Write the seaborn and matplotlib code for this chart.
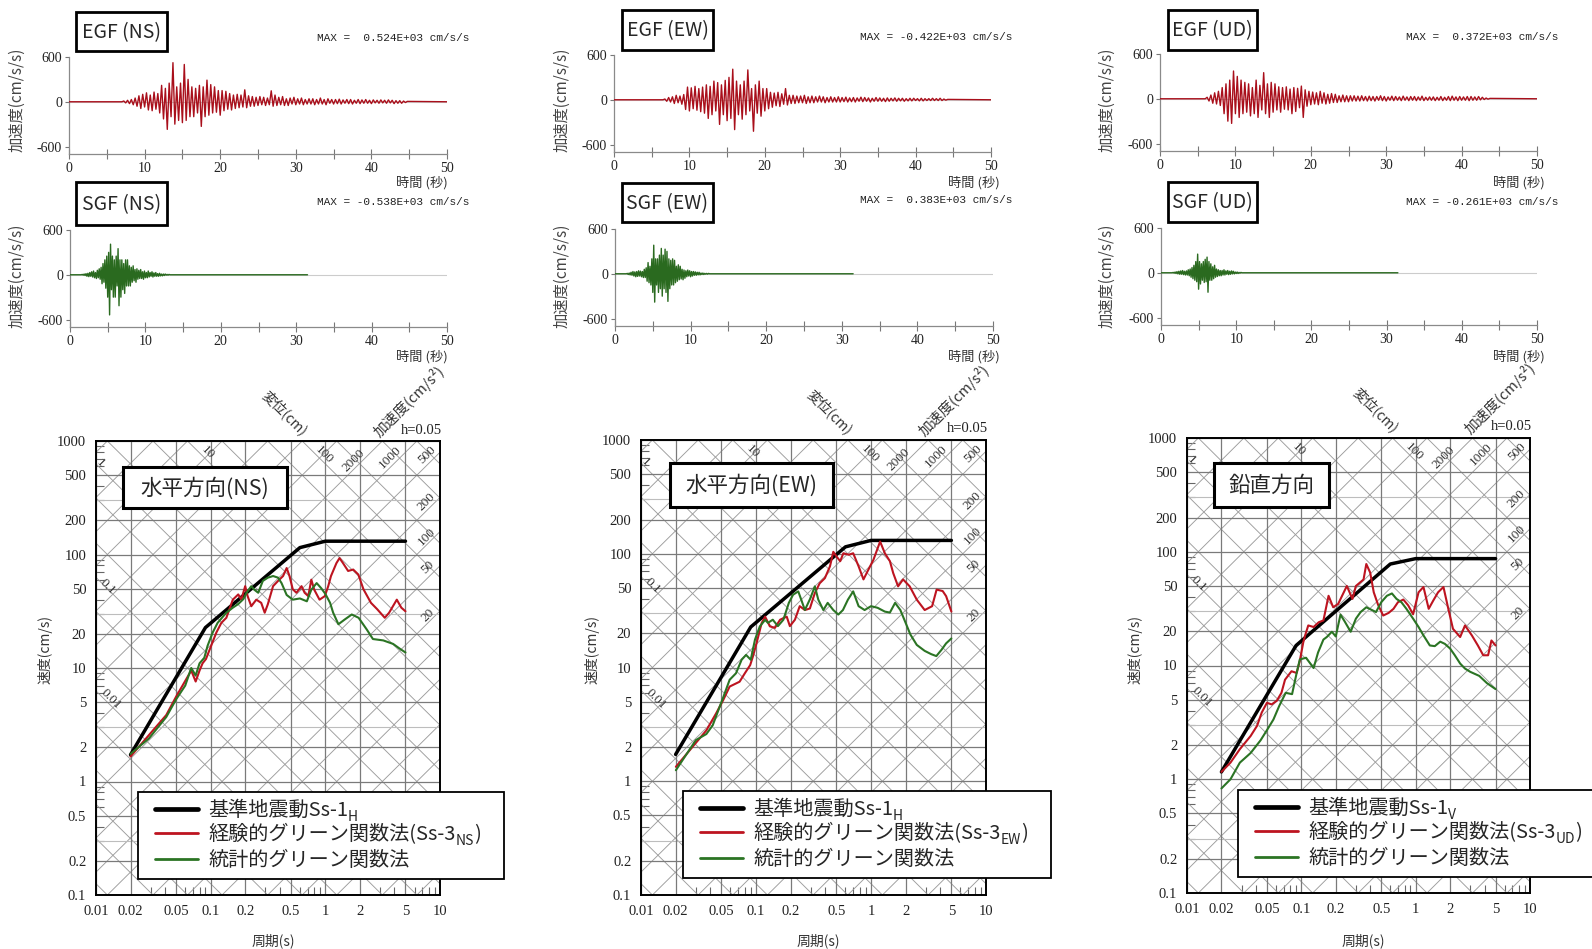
import numpy as np
import matplotlib
matplotlib.use("Agg")
import matplotlib.pyplot as plt
import seaborn as sns
from matplotlib.patches import Rectangle
from matplotlib.lines import Line2D
from matplotlib.ticker import NullFormatter

W, H = 1592, 949

# ---- acceleration time histories (cm/s/s) ----
egf_dt = 0.25
egf_ns_t0 = 7.0
egf_ns = [0, 10, -15, 20, -25, 30, -40, 50, -60, 80, -90, 100, -70, 120, -110, 90, -120, 130, -100, 110,
          -150, 220, -230, 180, -370, 250, -200, 524, -300, 200, -250, 250, -280, 500, -250, 300, -200, 200, -200, 180,
          -150, 220, -330, 200, -200, 290, -180, 230, -150, 200, -140, 150, -180, 150, -120, 140, -100, 110, -110, 90,
          -90, 100, -80, 90, -70, 160, -80, 80, -60, 70, -60, 60, -50, 70, -40, 60, -50, 50, -40, 147,
          -60, 90, -50, 60, -40, 70, -50, 40, -50, 50, -30, 60, -40, 40, -30, 50, -40, 30, -30, 40,
          -30, 40, -40, 30, -30, 50, -30, 30, -40, 40, -20, 30, -30, 30, -25, 35, -30, 25, -20, 30,
          -25, 30, -30, 20, -20, 30, -25, 25, -20, 30, -20, 20, -25, 25, -15, 20, -20, 25, -15, 20,
          -20, 25, -15, 20, -25, 15, -20, 15, -20, 10, -10, 5]
egf_ew_t0 = 6.5
egf_ew = [0, 10, -20, 30, -30, 40, -50, 60, -40, 50, -60, 70, -130, 170, -150, 160, -120, 180, -140, 150,
          -160, 170, -180, 200, -250, 180, -200, 250, -150, 230, -330, 200, -200, 260, -280, 300, -250, 410, -400, 250,
          -200, 200, -260, 250, -200, 400, -150, 150, -422, 200, -180, 250, -220, 150, -150, 150, -120, 100, -100, 90,
          -80, 100, -90, 80, -60, 150, -70, 60, -50, 60, -50, 50, -40, 50, -40, 60, -50, 40, -40, 50,
          -40, 40, -30, 50, -30, 40, -40, 30, -30, 40, -30, 30, -30, 40, -30, 30, -25, 35, -30, 25,
          -25, 30, -30, 25, -20, 35, -25, 30, -20, 25, -30, 20, -20, 30, -20, 25, -20, 20, -25, 25,
          -20, 20, -15, 25, -20, 20, -15, 20, -20, 15, -15, 20, -15, 20, -10, 15, -15, 20, -15, 15,
          -10, 15, -10, 20, -10, 15, -10, 20, -10, 10, -5, 5]
egf_ud_t0 = 6.0
egf_ud = [0, 20, -30, 50, -60, 80, -70, 100, -90, 150, -200, 200, -300, 250, -330, 372, -200, 300, -250, 250,
          -200, 220, -180, 200, -230, 150, -200, 250, -250, 180, -150, 350, -200, 200, -250, 220, -180, 200, -150, 160,
          -180, 150, -140, 160, -150, 130, -200, 150, -170, 140, -120, 170, -250, 120, -100, 100, -80, 90, -70, 80,
          -80, 100, -60, 80, -70, 60, -60, 70, -50, 60, -50, 40, -40, 50, -40, 40, -40, 40, -30, 40,
          -30, 35, -30, 40, -25, 30, -30, 35, -25, 30, -30, 30, -20, 40, -25, 30, -30, 25, -20, 35,
          -25, 30, -20, 25, -25, 35, -20, 25, -25, 30, -20, 30, -25, 25, -20, 35, -25, 20, -20, 25,
          -20, 25, -25, 20, -20, 30, -25, 20, -20, 30, -25, 35, -20, 25, -25, 30, -20, 25, -20, 30,
          -25, 30, -20, 25, -20, 30, -15, 20, -10, 10, -5, 5]

sgf_dt = 0.125
sgf_t0 = 1.5
sgf_end = 31.5
sgf_ns = [0, 5, -5, 10, -10, 15, -20, 20, -25, 30, -20, 40, -30, 50, -40, 30,
          -50, 60, -40, 80, -60, 100, -120, 150, -100, 200, -180, 250, -300, 300, -538, 410,
          -200, 250, -300, 200, -300, 250, -150, 350, -415, 200, -300, 200, -200, 150, -250, 200,
          -150, 200, -150, 120, -150, 100, -100, 120, -80, 70, -100, 80, -60, 60, -50, 70,
          -50, 40, -60, 50, -40, 30, -40, 50, -30, 30, -20, 40, -30, 25, -20, 30,
          -20, 15, -20, 20, -15, 10, -15, 10, -10, 10, -5, 5, -5, 5, 0, 0]
sgf_ew = [0, 5, -10, 10, -15, 20, -20, 30, -30, 25, -40, 30, -35, 40, -30, 35,
          -40, 30, -50, 60, -50, 80, -100, 150, -120, 100, -150, 200, -250, 383, -380, 200,
          -150, 200, -250, 250, -200, 340, -300, 250, -200, 330, -250, 300, -370, 200, -200, 180,
          -150, 200, -150, 180, -120, 100, -100, 120, -80, 100, -70, 60, -80, 50, -60, 40,
          -40, 50, -30, 40, -40, 30, -30, 30, -20, 25, -20, 20, -15, 20, -15, 10,
          -10, 10, -10, 5, -5, 5, -5, 5, 0, 0, 0, 0, 0, 0, 0, 0]
sgf_ud = [0, 5, -5, 10, -10, 15, -15, 20, -20, 25, -20, 30, -25, 20, -30, 25,
          -30, 40, -40, 50, -60, 70, -80, 100, -100, 150, -120, 250, -220, 150, -150, 120,
          -100, 150, -130, 180, -120, 210, -261, 150, -100, 120, -100, 80, -80, 100, -60, 50,
          -50, 40, -40, 30, -40, 30, -30, 40, -30, 25, -20, 30, -25, 20, -20, 25,
          -15, 20, -15, 10, -10, 10, -10, 5, -5, 5, 0, 0, 0, 0, 0, 0]

egf_max = ["MAX =  0.524E+03 cm/s/s", "MAX = -0.422E+03 cm/s/s", "MAX =  0.372E+03 cm/s/s"]
sgf_max = ["MAX = -0.538E+03 cm/s/s", "MAX =  0.383E+03 cm/s/s", "MAX = -0.261E+03 cm/s/s"]

# ---- pseudo velocity response spectra (h=0.05) ----
ss1h_T = [0.02, 0.09, 0.6, 1.0, 5.0]
ss1h_V = [1.72, 22.7, 115, 131, 131]
ss1v_T = [0.02, 0.09, 0.6, 1.0, 5.0]
ss1v_V = [1.16, 15.0, 78, 87, 87]

egf_ns_T = [0.02, 0.029, 0.041, 0.05, 0.0677, 0.074, 0.08, 0.085, 0.091, 0.101, 0.112, 0.124, 0.137, 0.156,
            0.174, 0.185, 0.2, 0.21, 0.226, 0.25, 0.276, 0.296, 0.315, 0.35, 0.387, 0.428, 0.46, 0.487, 0.52,
            0.56, 0.62, 0.66, 0.71, 0.755, 0.8, 0.89, 0.99, 1.06, 1.12, 1.25, 1.33, 1.42, 1.58, 1.75, 1.94,
            2.15, 2.5, 2.83, 3.3, 3.6, 4.2, 4.6, 5.0]
egf_ns_V = [1.66, 2.57, 3.85, 5.6, 9.5, 7.6, 9.5, 11, 12, 15.7, 20.5, 25, 27.7, 40, 44.5, 40, 52.6, 43, 35, 40,
            37.5, 30.7, 36.4, 52.6, 58.5, 64.6, 76, 64.6, 49.4, 46, 52.6, 46, 43, 60, 49, 40, 43, 52.6, 64.6,
            84, 93, 84.5, 71.6, 73.7, 66.6, 49.4, 37.5, 33, 27.7, 30.7, 40, 34, 31.6]
sgf_ns_T = [0.02, 0.029, 0.041, 0.05, 0.06, 0.0677, 0.074, 0.08, 0.088, 0.094, 0.104, 0.115, 0.137, 0.156,
            0.174, 0.193, 0.205, 0.226, 0.24, 0.26, 0.285, 0.315, 0.35, 0.387, 0.415, 0.46, 0.52, 0.6, 0.69,
            0.755, 0.84, 0.92, 1.0, 1.1, 1.17, 1.3, 1.48, 1.7, 1.95, 2.3, 2.6, 3.2, 3.9, 4.5, 5.0]
sgf_ns_V = [1.75, 2.4, 3.7, 5.3, 7.0, 10, 8.6, 11, 12.3, 15.7, 20.5, 25, 30.7, 34, 36.6, 40.5, 45.8, 52.6, 49,
            46, 58.5, 62.5, 64.6, 62.5, 56, 44, 40, 41, 38.7, 49, 56, 50.5, 45, 37.5, 30.7, 24.3, 26.8, 29.6,
            27.7, 21.8, 18, 17.5, 16.3, 14.7, 13.7]

egf_ew_T = [0.0201, 0.028, 0.037, 0.045, 0.052, 0.059, 0.072, 0.08, 0.089, 0.094, 0.101, 0.112, 0.12, 0.132,
            0.146, 0.162, 0.185, 0.197, 0.218, 0.24, 0.266, 0.294, 0.325, 0.358, 0.397, 0.44, 0.47, 0.5, 0.54,
            0.575, 0.64, 0.7, 0.78, 0.86, 0.95, 1.05, 1.2, 1.32, 1.46, 1.56, 1.72, 1.9, 2.17, 2.5, 2.93, 3.4,
            3.72, 4.2, 4.5, 5.0]
egf_ew_V = [1.34, 2.0, 2.8, 3.95, 5.2, 6.8, 7.5, 8.9, 10.5, 12.5, 16.3, 24.6, 28, 23, 22.3, 26.3, 28, 23.1,
            26.3, 34.6, 32, 33, 45.2, 55, 61, 77.6, 104, 95, 86, 101, 98, 101, 77.6, 59.5, 72.6, 88.5, 128,
            101, 86, 67.6, 51.7, 59.5, 51.7, 39.5, 32, 34.6, 48.4, 47, 42.4, 31]
sgf_ew_T = [0.0201, 0.0246, 0.03, 0.037, 0.042, 0.052, 0.059, 0.067, 0.075, 0.082, 0.09, 0.098, 0.108, 0.12,
            0.127, 0.14, 0.155, 0.173, 0.193, 0.21, 0.233, 0.25, 0.266, 0.295, 0.325, 0.348, 0.385, 0.42, 0.47,
            0.52, 0.57, 0.63, 0.7, 0.78, 0.88, 1.0, 1.14, 1.32, 1.46, 1.62, 1.8, 2.0, 2.2, 2.5, 2.93, 3.34, 3.7,
            4.1, 4.5, 5.0]
sgf_ew_V = [1.25, 1.7, 2.3, 2.6, 3.1, 5.5, 7.8, 8.9, 11.7, 12.9, 11.7, 17.6, 23, 26.2, 24.7, 26.3, 23.1, 26.3,
            37, 43.6, 46.7, 38.3, 32, 40, 51.7, 39.5, 32, 37, 32, 29.2, 32, 39.5, 46.7, 34.6, 32, 34.6, 33.5,
            31, 30.4, 37, 32, 24.7, 19.5, 15.8, 14, 13.1, 12.6, 14.3, 16.3, 18]

egf_ud_T = [0.02, 0.024, 0.029, 0.036, 0.041, 0.045, 0.05, 0.055, 0.061, 0.067, 0.072, 0.082, 0.091, 0.097,
            0.104, 0.108, 0.115, 0.128, 0.142, 0.156, 0.173, 0.19, 0.21, 0.25, 0.28, 0.3, 0.35, 0.37, 0.4, 0.43,
            0.47, 0.52, 0.58, 0.64, 0.7, 0.78, 0.86, 0.95, 1.06, 1.17, 1.3, 1.42, 1.57, 1.75, 1.93, 2.12, 2.45,
            2.7, 3.1, 3.5, 3.9, 4.3, 4.6, 5.0]
egf_ud_V = [1.16, 1.4, 1.84, 2.4, 2.95, 3.85, 4.7, 4.55, 4.9, 5.75, 7.5, 8.9, 8.6, 11, 16, 18.4, 22.5, 21.8,
            24, 24.9, 41, 32.5, 34.8, 50, 38.5, 50, 57, 78, 65.6, 44, 34, 27.5, 29, 31.5, 36, 38, 33.8, 28.2,
            44, 49, 31.5, 37, 44, 49, 31.5, 21, 17.8, 22.5, 18.4, 15, 12.3, 12.3, 16.6, 15]
sgf_ud_T = [0.02, 0.024, 0.029, 0.036, 0.044, 0.05, 0.057, 0.064, 0.073, 0.083, 0.091, 0.097, 0.11, 0.128,
            0.14, 0.156, 0.167, 0.185, 0.2, 0.22, 0.24, 0.27, 0.3, 0.33, 0.37, 0.45, 0.5, 0.56, 0.62, 0.68,
            0.75, 0.83, 0.95, 1.06, 1.17, 1.33, 1.47, 1.64, 1.8, 2.0, 2.2, 2.45, 2.7, 3.0, 3.6, 4.2, 5.0]
sgf_ud_V = [0.83, 1.0, 1.4, 1.7, 2.2, 2.7, 3.35, 4.4, 5.75, 5.6, 8.6, 11.3, 11.7, 9.5, 13, 16.9, 17.8, 19.8,
            18, 28, 24.3, 19.8, 25.8, 29.5, 32.5, 29.5, 36, 41, 43, 38.5, 36, 31.5, 25.8, 21.8, 18.4, 15, 14.8,
            16.2, 15.5, 14.1, 12.3, 10.4, 9.4, 8.8, 8.1, 7.0, 6.2]

period_ticks = [0.01, 0.02, 0.05, 0.1, 0.2, 0.5, 1, 2, 5, 10]
period_labels = ["0.01", "0.02", "0.05", "0.1", "0.2", "0.5", "1", "2", "5", "10"]
vel_ticks = [0.1, 0.2, 0.5, 1, 2, 5, 10, 20, 50, 100, 200, 500, 1000]
vel_labels = ["0.1", "0.2", "0.5", "1", "2", "5", "10", "20", "50", "100", "200", "500", "1000"]
disp_labels = ["1", "10", "100", "0.1", "0.01"]
acc_labels = ["2000", "1000", "500", "200", "100", "50", "20"]

WAVE_RED = "#a90f1b"
WAVE_GREEN = "#2a6a1f"
RED = "#bd1420"
GREEN = "#2b7424"
SERIF = ["Liberation Serif", "DejaVu Serif"]

sns.set_theme(style="white")
plt.rcParams["font.family"] = ["Noto Sans CJK JP", "DejaVu Sans"]

fig = plt.figure(figsize=(W / 100, H / 100), dpi=100)
fig.patch.set_facecolor("white")
renderer = fig.canvas.get_renderer()


def rect(x0, y0, x1, y1):
    return [x0 / W, 1 - y1 / H, (x1 - x0) / W, (y1 - y0) / H]


def fp(x, y):
    return x / W, 1 - y / H


def framed(x0, y0, x1, y1, text, size, lw=2.0):
    fig.add_artist(Rectangle(fp(x0, y1), (x1 - x0) / W, (y1 - y0) / H, transform=fig.transFigure,
                             fc="white", ec="black", lw=lw, zorder=5))
    fig.text(*fp((x0 + x1) / 2, (y0 + y1) / 2 + 1), text, ha="center", va="center",
             fontsize=size, zorder=6)


def rich(x, y, parts):
    # parts: (text, fontsize, baseline shift in px)
    for s, fs, dy in parts:
        t = fig.text(*fp(x, y + dy), s, fontsize=fs, va="baseline", ha="left", zorder=7)
        x = t.get_window_extent(renderer).x1


def draw_wave(box, t0, dt, vals, t_end, color):
    ax = fig.add_axes(rect(*box))
    t = np.concatenate([[0.0], t0 + dt * np.arange(len(vals)), [t_end]])
    a = np.concatenate([[0.0], vals, [0.0]])
    ax.axhline(0, color="#cccccc", lw=0.8, zorder=1)
    sns.lineplot(x=t, y=a, ax=ax, color=color, lw=1.0, estimator=None, sort=False, zorder=3)
    ax.set_xlim(0, 50)
    ax.set_ylim(-700, 600)
    xt = list(range(0, 51, 5))
    ax.set_xticks(xt, [str(v) if v % 10 == 0 else "" for v in xt])
    ax.set_yticks([-600, 0, 600], ["-600", "0", "600"])
    ax.tick_params(axis="x", direction="inout", length=7, width=0.8, color="#777777",
                   labelsize=10, pad=2, bottom=True, labelcolor="#222222")
    ax.tick_params(axis="y", direction="out", length=3, width=0.8, color="#777777",
                   labelsize=10, pad=2, left=True, labelcolor="#222222")
    for s in ("top", "right"):
        ax.spines[s].set_visible(False)
    for s in ("left", "bottom"):
        ax.spines[s].set_color("#8a8a8a")
        ax.spines[s].set_linewidth(0.9)
    for lab in ax.get_xticklabels() + ax.get_yticklabels():
        lab.set_fontfamily(SERIF)
    ax.set_xlabel("")
    ax.set_ylabel("")
    ax.patch.set_alpha(0)


def draw_spec(box, curves):
    x0, y0, x1, y1 = box
    ax = fig.add_axes(rect(*box))
    ax.set_xscale("log")
    ax.set_yscale("log")
    ax.set_xlim(0.01, 10)
    ax.set_ylim(0.1, 1000)
    T = np.array([0.003, 30.0])
    for k in range(-5, 4):
        for m in (1, 2, 5):
            d = m * 10.0 ** k
            ax.plot(T, 2 * np.pi * d / T, color="#9c9c9c", lw=0.65, zorder=1)
    for k in range(-1, 6):
        for m in (1, 2, 5):
            acc = m * 10.0 ** k
            ax.plot(T, acc * T / (2 * np.pi), color="#9c9c9c", lw=0.65, zorder=1)
    for v in vel_ticks:
        ax.axhline(v, color="#7a7a7a", lw=0.9, zorder=1)
    for v in (0.3, 3, 30, 300):
        ax.axhline(v, color="#bdbdbd", lw=0.8, zorder=1)
    for p in period_ticks:
        ax.axvline(p, color="#7a7a7a", lw=0.9, zorder=1)
    for (tt, vv, c, lw) in curves:
        sns.lineplot(x=tt, y=vv, ax=ax, color=c, lw=lw, estimator=None, sort=False, zorder=4)
    # diagonal scale labels
    for s, (tp, vp) in zip(disp_labels, [(0.0108, 640), (0.094, 790), (0.97, 750), (0.0127, 52), (0.0134, 5.3)]):
        ax.text(tp, vp, s, rotation=-45, ha="center", va="center", fontsize=9.5, family=SERIF,
                color="#333333", rotation_mode="anchor", zorder=3)
    for s, (tp, vp) in zip(acc_labels, [(1.75, 680), (3.7, 720), (7.7, 750), (7.6, 290), (7.6, 143),
                                        (7.8, 78), (7.9, 29)]):
        ax.text(tp, vp, s, rotation=45, ha="center", va="center", fontsize=9.5, family=SERIF,
                color="#333333", rotation_mode="anchor", zorder=3, clip_on=False)
    ax.set_xticks(period_ticks, period_labels)
    ax.set_yticks(vel_ticks, vel_labels)
    mx = [m * 10.0 ** k for k in range(-2, 1) for m in (3, 4, 6, 7, 8, 9)]
    my = [m * 10.0 ** k for k in range(-1, 3) for m in (3, 4, 6, 7, 8, 9)]
    ax.set_xticks(mx, minor=True)
    ax.set_yticks(my, minor=True)
    ax.xaxis.set_minor_formatter(NullFormatter())
    ax.yaxis.set_minor_formatter(NullFormatter())
    ax.tick_params(which="major", length=0, labelsize=10.5, pad=7, labelcolor="#222222")
    ax.tick_params(which="minor", direction="in", length=6, width=0.8, color="#666666",
                   left=True, bottom=True)
    for lab in ax.get_xticklabels() + ax.get_yticklabels():
        lab.set_fontfamily(SERIF)
    for s in ax.spines.values():
        s.set_color("black")
        s.set_linewidth(1.4)
    ax.set_xlabel("")
    ax.set_ylabel("")
    # captions around the frame
    fig.text(*fp(x0 + 189, y0 - 28), "変位(cm)", rotation=-45, ha="center", va="center",
             fontsize=10, color="#333333", rotation_mode="anchor")
    fig.text(*fp(x0 + 313, y0 - 40), "加速度(cm/s²)", rotation=45, ha="center", va="center",
             fontsize=10.5, color="#333333", rotation_mode="anchor")
    fig.text(*fp(x1 + 2, y0 - 11), "h=0.05", ha="right", va="center", fontsize=10.5,
             family=SERIF, color="#222222")
    fig.text(*fp((x0 + x1) / 2 + 5, 941), "周期(s)", ha="center", va="center", fontsize=10,
             color="#333333")


cols = ["NS", "EW", "UD"]
egf_boxes = [(69, 57, 447, 154), (614, 55, 991, 152), (1160, 54, 1537, 151)]
sgf_boxes = [(70, 230, 447, 327), (615, 229, 993, 326), (1161, 228, 1537, 325)]
egf_label_boxes = [(76, 12, 167, 51), (622, 10, 713, 50), (1168, 10, 1257, 50)]
sgf_label_boxes = [(76, 182, 167, 225), (622, 183, 713, 222), (1168, 182, 1257, 222)]
max_right = [469, 1012, 1558]
egf_max_y = [38, 37, 37]
sgf_max_y = [202, 200, 202]
time_right = [448, 1000, 1545]
wave_ylab_x = [17, 562, 1107]
spec_boxes = [(96, 441, 440, 895), (641, 440, 986, 895), (1187, 438, 1530, 893)]
spec_ylab_x = [45, 592, 1135]
title_boxes = [(123, 467, 287, 508), (670, 463, 833, 507), (1214, 463, 1329, 507)]
titles = ["水平方向(NS)", "水平方向(EW)", "鉛直方向"]
legend_boxes = [(138, 792, 504, 879), (683, 791, 1051, 878), (1238, 790, 1610, 877)]
black_sub = ["H", "H", "V"]

egf_waves = [(egf_ns_t0, egf_ns), (egf_ew_t0, egf_ew), (egf_ud_t0, egf_ud)]
sgf_waves = [sgf_ns, sgf_ew, sgf_ud]
spec_black = [(ss1h_T, ss1h_V), (ss1h_T, ss1h_V), (ss1v_T, ss1v_V)]
spec_red = [(egf_ns_T, egf_ns_V), (egf_ew_T, egf_ew_V), (egf_ud_T, egf_ud_V)]
spec_green = [(sgf_ns_T, sgf_ns_V), (sgf_ew_T, sgf_ew_V), (sgf_ud_T, sgf_ud_V)]

for i, c in enumerate(cols):
    # time histories
    t0, vals = egf_waves[i]
    draw_wave(egf_boxes[i], t0, egf_dt, vals, 50.0, WAVE_RED)
    draw_wave(sgf_boxes[i], sgf_t0, sgf_dt, sgf_waves[i], sgf_end, WAVE_GREEN)
    framed(*egf_label_boxes[i], f"EGF ({c})", 14)
    framed(*sgf_label_boxes[i], f"SGF ({c})", 14)
    fig.text(*fp(max_right[i], egf_max_y[i]), egf_max[i], ha="right", va="center", fontsize=8,
             family=["Liberation Mono", "DejaVu Sans Mono"], color="#222222")
    fig.text(*fp(max_right[i], sgf_max_y[i]), sgf_max[i], ha="right", va="center", fontsize=8,
             family=["Liberation Mono", "DejaVu Sans Mono"], color="#222222")
    for yy in (183, 357):
        fig.text(*fp(time_right[i], yy), "時間 (秒)", ha="right", va="center", fontsize=9.5,
                 color="#333333")
    for yy in (100, 276):
        fig.text(*fp(wave_ylab_x[i], yy), "加速度(cm/s/s)", rotation=90, ha="center", va="center",
                 fontsize=11, color="#444444")

    # response spectrum
    draw_spec(spec_boxes[i], [(spec_black[i][0], spec_black[i][1], "black", 2.5),
                              (spec_red[i][0], spec_red[i][1], RED, 1.5),
                              (spec_green[i][0], spec_green[i][1], GREEN, 1.5)])
    fig.text(*fp(spec_ylab_x[i], 650), "速度(cm/s)", rotation=90, ha="center", va="center",
             fontsize=10, color="#333333")
    framed(*title_boxes[i], titles[i], 15.5, lw=2.2)

    # legend
    lx0, ly0, lx1, ly1 = legend_boxes[i]
    fig.add_artist(Rectangle(fp(lx0, ly1), (lx1 - lx0) / W, (ly1 - ly0) / H, transform=fig.transFigure,
                             fc="white", ec="black", lw=1.3, zorder=5))
    for (dy, col, lw) in [(17, "black", 3.4), (41, RED, 2.0), (67, GREEN, 2.0)]:
        fig.add_artist(Line2D([(lx0 + 17) / W, (lx0 + 60) / W], [1 - (ly0 + dy) / H] * 2,
                              transform=fig.transFigure, color=col, lw=lw, zorder=6))
    rich(lx0 + 70, ly0 + 24, [("基準地震動Ss-1", 14.5, 0), (black_sub[i], 10, 5)])
    rich(lx0 + 70, ly0 + 48, [("経験的グリーン関数法(Ss-3", 14.5, 0), (c, 10, 5), (")", 14.5, 0)])
    rich(lx0 + 70, ly0 + 74, [("統計的グリーン関数法", 14.5, 0)])

fig.savefig("out.png", dpi=100, facecolor="white")
